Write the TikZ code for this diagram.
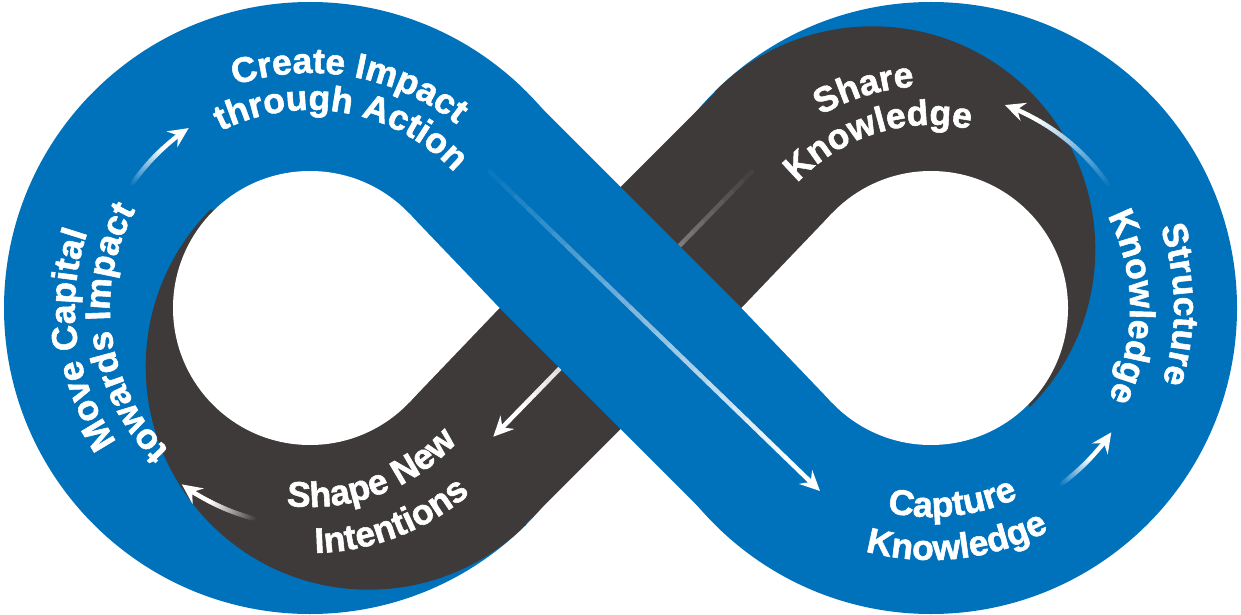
\documentclass[tikz,border=0pt]{standalone}
\usepackage{fontspec}
\setmainfont{Liberation Sans}
\newfontfamily\labfam{Liberation Sans}[BoldFeatures={FakeBold=1.6}]
\usetikzlibrary{arrows.meta,decorations.text,calc}
\definecolor{bandblue}{RGB}{0,114,188}
\definecolor{banddark}{RGB}{62,58,57}
\newcommand\labfont{\labfam\fontsize{35.5}{36}\selectfont\bfseries}
\tikzset{
  arrowtip/.style={white, line width=4.5pt, -{Stealth[length=20pt,width=19pt,inset=7pt]}},
  shaft/.style={line width=4.5pt, line cap=round},
}
% gradient arc arrow: center, radius, start angle, tip angle, background colour, angle where the white head segment starts
\newcommand\gradarc[6]{%
  \foreach \i in {1,...,24}{%
    \pgfmathsetmacro\sa{#3+(#6-#3)*(\i-1)/24}%
    \pgfmathsetmacro\ea{#3+(#6-#3)*\i/24}%
    \pgfmathtruncatemacro\pc{100*\i/24}%
    \draw[shaft, white!\pc!#5] ([shift={(\sa:#2)}]#1) arc[start angle=\sa, end angle=\ea, radius=#2];
  }%
  \draw[arrowtip] ([shift={(#6:#2)}]#1) arc[start angle=#6, end angle=#4, radius=#2];
}
% gradient straight arrow: start, tip, background colour, head segment length
\newcommand\gradline[4]{%
  \coordinate (gstop) at ($(#2)!#4!(#1)$);
  \foreach \i in {1,...,24}{%
    \pgfmathsetmacro\ta{(\i-1)/24}%
    \pgfmathsetmacro\tb{\i/24}%
    \pgfmathtruncatemacro\pc{100*\i/24}%
    \draw[shaft, white!\pc!#3] ($(#1)!\ta!(gstop)$) -- ($(#1)!\tb!(gstop)$);
  }%
  \draw[arrowtip] (gstop) -- (#2);
}
% curved label: center, radius, start angle, end angle, text
\newcommand\arctext[5]{%
  \path[decorate, decoration={text along path, text align=center, text color=white, text={|\labfont|#5}}]
    ([shift={(#3:#2)}]#1) arc[start angle=#3, end angle=#4, radius=#2];
}
\begin{document}
\begin{tikzpicture}[x=1pt,y=1pt]
\fill[white] (0,0) rectangle (1241,614);
\useasboundingbox (0,0) rectangle (1241,614);
\coordinate (C1) at (310,306);
\coordinate (C2) at (931,306);
\coordinate (D1) at (368.7,247.3);
\coordinate (D2) at (872.3,364.7);
% blue loops
\fill[bandblue] (C1) circle[radius=306];
\fill[bandblue] (C2) circle[radius=306];
% dark inner crescents
\begin{scope}
  \clip (-100,716) -- (800,-184) -- (-100,-184) -- cycle;
  \fill[banddark] (D1) circle[radius=223];
\end{scope}
\begin{scope}
  \clip (400,837) -- (1400,-163) -- (1400,837) -- cycle;
  \fill[banddark] (D2) circle[radius=223];
\end{scope}
% dark diagonal (under)
\fill[banddark] (401.75,208.25) -- (718.25,524.75) -- (839.25,403.75) -- (522.75,87.25) -- cycle;
\coordinate (a2s) at (751.7,442.3);
\coordinate (a2t) at (493.3,177.3);
\gradline{a2s}{a2t}{banddark}{30pt}
% blue diagonal (over)
\fill[bandblue] (525.75,521.75) -- (836.25,211.25) -- (715.25,90.25) -- (404.75,400.75) -- cycle;
\coordinate (a1s) at (490,442.3);
\coordinate (a1t) at (820,123);
\gradline{a1s}{a1t}{bandblue}{30pt}
% holes
\fill[white] (C1) circle[radius=137];
\fill[white] (499.5,306) -- (409,400.6) -- (C1) -- (409,211.4) -- cycle;
\fill[white] (C2) circle[radius=137];
\fill[white] (741.5,306) -- (832,400.6) -- (C2) -- (832,211.4) -- cycle;
% curved arrows
\gradarc{C1}{217}{145}{124}{bandblue}{132}
\gradarc{C1}{218}{255}{234}{banddark}{242}
\gradarc{C2}{219}{-53.5}{-34.6}{bandblue}{-42.6}
\gradarc{C2}{216}{35}{70}{bandblue}{62}
% labels
\arctext{C1}{235}{140}{20}{Create Impact}
\arctext{C1}{198}{140}{20}{through Action}
\arctext{C1}{235}{248}{128}{Move Capital}
\arctext{C1}{200}{248}{128}{towards Impact}
\arctext{C1}{199}{230.5}{350.5}{Shape New}
\arctext{C1}{245}{231}{351}{Intentions}
\arctext{C2}{222}{167}{47}{Share}
\arctext{C2}{183}{167.3}{47.3}{Knowledge}
\arctext{C2}{243}{60.8}{-59.2}{Structure}
\arctext{C2}{199}{60.3}{-59.7}{Knowledge}
\arctext{C2}{209}{216.3}{336.3}{Capture}
\arctext{C2}{252}{216.4}{336.4}{Knowledge}
\end{tikzpicture}
\end{document}
